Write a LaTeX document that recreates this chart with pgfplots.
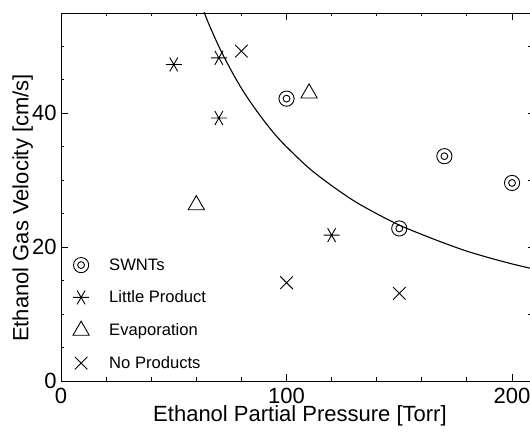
\documentclass[border=0pt]{standalone}
\usepackage{pgfplots}
\pgfplotsset{compat=1.18}
\usepackage{fontspec}
\setmainfont{Liberation Sans}

\pgfdeclareplotmark{dcircle}{%
  \pgfpathcircle{\pgfpointorigin}{\pgfplotmarksize}%
  \pgfusepathqstroke
  \pgfpathcircle{\pgfpointorigin}{0.45\pgfplotmarksize}%
  \pgfusepathqstroke}

\begin{document}
\begin{tikzpicture}
\begin{axis}[
  at={(0,0)}, anchor=south west,
  scale only axis, width=473.6pt, height=368pt,
  xmin=0, xmax=210, ymin=0, ymax=55,
  xtick={0,100,200}, minor xtick={20,40,60,80,120,140,160,180},
  ytick={0,20,40}, minor ytick={5,10,15,25,30,35,45,50},
  xtick pos=both, ytick pos=left,
  tick align=inside,
  major tick length=7pt, minor tick length=3.5pt,
  axis line style={line width=0.9pt},
  every tick/.style={line width=0.9pt, black},
  tick label style={font=\fontsize{22}{26}\selectfont},
  /pgf/number format/assume math mode=true,
  xticklabel style={anchor=base, inner sep=0pt, yshift=-22.3pt},
  yticklabel style={anchor=east, inner sep=0pt, xshift=-4.3pt},
  xlabel={Ethanol Partial Pressure [Torr]},
  ylabel={Ethanol Gas Velocity [cm/s]},
  every axis x label/.style={at={(axis description cs:0.5046,-0.1110)}, anchor=base, font=\fontsize{22}{26}\selectfont},
  every axis y label/.style={at={(axis description cs:-0.0691,0.470)}, anchor=base, rotate=90, font=\fontsize{22}{26}\selectfont},
  legend style={draw=none, fill=none, inner sep=0pt, outer sep=0pt,
    row sep=15pt, column sep=18pt,
    font=\fontsize{16.6}{19}\selectfont,
    at={(axis cs:5.3,18.6)}, anchor=north west},
  legend cell align=left,
]
\addplot[black, line width=1.1pt, smooth, no markers, forget plot] coordinates {
 (60,58.3) (63.6,55.0) (66,53.0) (70,50.0) (75,46.7) (80,43.75) (85,41.2)
 (90,38.9) (95,36.8) (100,35.0) (110,31.8) (120,29.2) (130,26.9) (140,25.0)
 (150,23.3) (160,21.9) (170,20.6) (180,19.4) (190,18.4) (200,17.5) (210,16.7)};
\addplot[only marks, mark=dcircle, mark size=7.6pt, mark options={line width=0.9pt, black}] coordinates {
 (100,42.2) (150,22.8) (170,33.6) (200,29.6)};
\addlegendentry{SWNTs}
\addplot[only marks, mark=asterisk, mark size=8pt, mark options={rotate=90, line width=0.9pt, black}] coordinates {
 (50,47.3) (70,48.3) (70,39.3) (120,21.8)};
\addlegendentry{Little Product}
\addplot[only marks, mark=triangle, mark size=9.4pt, mark options={line width=0.9pt, black}] coordinates {
 (60,26.3) (110,43.0)};
\addlegendentry{Evaporation}
\addplot[only marks, mark=x, mark size=8.9pt, mark options={line width=0.9pt, black}] coordinates {
 (80,49.3) (100,14.7) (150,13.1)};
\addlegendentry{No Products}
\end{axis}
\begin{axis}[
  at={(0,0)}, anchor=south west,
  scale only axis, width=473.6pt, height=368pt,
  xmin=0, xmax=210, ymin=0, ymax=55,
  axis x line=none, axis y line*=right,
  ytick={10,20,30,40,50}, yticklabels={},
  tick align=inside, major tick length=7pt,
  axis line style={line width=0.9pt},
  every tick/.style={line width=0.9pt, black},
]
\addplot[draw=none, forget plot] coordinates {(0,0)};
\end{axis}
\pgfresetboundingbox
\useasboundingbox (-61pt,-52pt) rectangle (469pt,381pt);
\end{tikzpicture}
\end{document}
